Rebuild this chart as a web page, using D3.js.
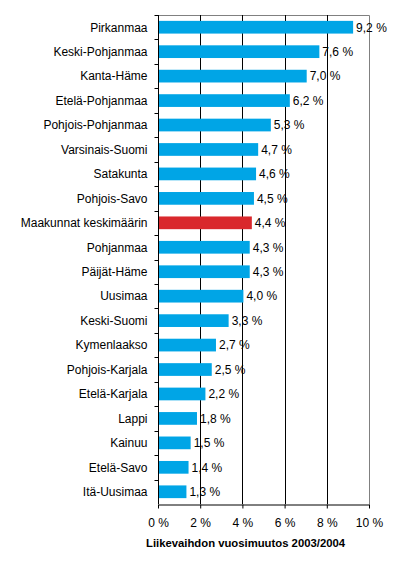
<!DOCTYPE html>
<html>
<head>
<meta charset="utf-8">
<script src="https://cdn.jsdelivr.net/npm/d3@7"></script>
<style>
  body { margin: 0; background: #fff; }
  text { font-family: "Liberation Sans", Arial, sans-serif; }
</style>
</head>
<body>
<svg id="chart" width="397" height="571"></svg>
<script>
const MARGIN = { top: 15, right: 28, bottom: 67, left: 158 };

// maakunnat ylhäältä alas
const regions = ["Pirkanmaa", "Keski-Pohjanmaa", "Kanta-Häme", "Etelä-Pohjanmaa",
  "Pohjois-Pohjanmaa", "Varsinais-Suomi", "Satakunta", "Pohjois-Savo",
  "Maakunnat keskimäärin", "Pohjanmaa", "Päijät-Häme", "Uusimaa", "Keski-Suomi",
  "Kymenlaakso", "Pohjois-Karjala", "Etelä-Karjala", "Lappi", "Kainuu",
  "Etelä-Savo", "Itä-Uusimaa"];
const changes = [9.2, 7.6, 7.0, 6.2, 5.3, 4.7, 4.6, 4.5, 4.4, 4.3, 4.3, 4.0,
  3.3, 2.7, 2.5, 2.2, 1.8, 1.5, 1.4, 1.3];
const xTicks = [0, 2, 4, 6, 8, 10];
const highlight = "Maakunnat keskimäärin";
const xTitle = "Liikevaihdon vuosimuutos 2003/2004";

const width = 397 - MARGIN.left - MARGIN.right;
const height = 571 - MARGIN.top - MARGIN.bottom;

const data = regions.map((r, i) => ({ region: r, value: changes[i] }));

const svg = d3.select("#chart")
  .append("g")
  .attr("transform", "translate(" + MARGIN.left + "," + MARGIN.top + ")");

let x = d3.scaleLinear().domain([0, 10]).range([0, width]);
let y = d3.scaleBand().domain(regions).range([0, height]).paddingInner(0.48).paddingOuter(0.24);

const fmt = v => v.toFixed(1).replace(".", ",") + " %";

// kehys ylä ja oikea
svg.append("path")
  .attr("d", "M0,0.5H" + (width + 0.5) + "V" + height)
  .attr("fill", "none")
  .attr("stroke", "#808080");

// pystyviivat
svg.selectAll(".grid")
  .data(xTicks.filter(d => d > 0 && d < 10))
  .join("line")
  .attr("x1", d => Math.round(x(d)) + 0.5)
  .attr("x2", d => Math.round(x(d)) + 0.5)
  .attr("y1", 0)
  .attr("y2", height)
  .attr("stroke", "#000");

// palkit
svg.selectAll(".bar")
  .data(data)
  .join("rect")
  .attr("x", x(0) + 1)
  .attr("y", d => y(d.region))
  .attr("width", d => x(d.value) - x(0))
  .attr("height", y.bandwidth())
  .attr("fill", d => d.region === highlight ? "#d9282c" : "#00a5e6");

// arvot
svg.selectAll(".val")
  .data(data)
  .join("text")
  .attr("x", d => x(d.value) + 4)
  .attr("y", d => y(d.region) + y.bandwidth() / 2)
  .attr("dy", "0.36em")
  .style("font-size", "12px")
  .text(d => fmt(d.value));

// y-akseli
const yAxis = svg.append("g")
  .attr("transform", "translate(0.5,0)");
yAxis.append("line")
  .attr("y1", 0).attr("y2", height)
  .attr("stroke", "#000");
yAxis.selectAll(".ytick")
  .data(d3.range(0, regions.length))
  .join("line")
  .attr("x1", -4).attr("x2", 0)
  .attr("y1", i => Math.round(i * height / regions.length) + 0.5)
  .attr("y2", i => Math.round(i * height / regions.length) + 0.5)
  .attr("stroke", "#000");
yAxis.selectAll(".ylab")
  .data(data)
  .join("text")
  .attr("x", -11)
  .attr("y", d => y(d.region) + y.bandwidth() / 2)
  .attr("dy", "0.36em")
  .attr("text-anchor", "end")
  .style("font-size", "12px")
  .text(d => d.region);

// x-akseli
const xAxis = svg.append("g")
  .attr("transform", "translate(0," + (height + 0.5) + ")")
  .call(d3.axisBottom(x).tickValues(xTicks).tickSize(4).tickSizeOuter(0).tickPadding(10).tickFormat(d => d + " %"));
xAxis.select(".domain").attr("stroke", "#000");
xAxis.selectAll("line").attr("stroke", "#000");
xAxis.selectAll("text")
  .style("font-size", "12px")
  .style("font-family", "'Liberation Sans', Arial, sans-serif");

svg.append("text")
  .attr("x", width / 2 - 18)
  .attr("y", height + 43)
  .attr("text-anchor", "middle")
  .style("font-size", "11.3px")
  .style("font-weight", "bold")
  .text(xTitle);
</script>
</body>
</html>
